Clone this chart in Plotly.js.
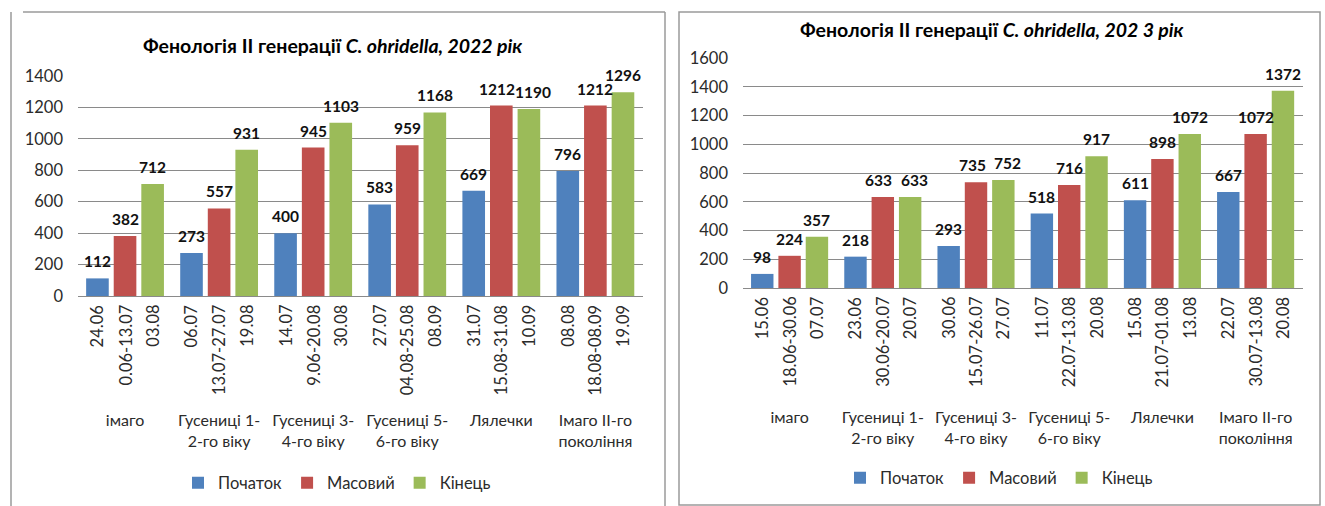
<!DOCTYPE html>
<html>
<head>
<meta charset="utf-8">
<script src="https://cdn.plot.ly/plotly-3.0.1.min.js"></script>
<style>html,body{margin:0;padding:0;background:#fff}#chart{width:1325px;height:506px}</style>
</head>
<body>
<div id="chart"></div>
<script>
// ---- data ----
const categories = ['імаго', 'Гусениці 1-2-го віку', 'Гусениці 3-4-го віку', 'Гусениці 5-6-го віку', 'Лялечки', 'Імаго ІІ-го покоління'];
const categoryLabels = ['імаго', 'Гусениці 1-<br>2-го віку', 'Гусениці 3-<br>4-го віку', 'Гусениці 5-<br>6-го віку', 'Лялечки', 'Імаго ІІ-го<br>покоління'];
const seriesNames = ['Початок', 'Масовий', 'Кінець'];

const start2022 = [112, 273, 400, 583, 669, 796];
const mass2022  = [382, 557, 945, 959, 1212, 1212];
const end2022   = [712, 931, 1103, 1168, 1190, 1296];
const startDates2022 = ['24.06', '06.07', '14.07', '27.07', '31.07', '08.08'];
const massDates2022  = ['0.06-13.07', '13.07-27.07', '9.06-20.08', '04.08-25.08', '15.08-31.08', '18.08-08.09'];
const endDates2022   = ['03.08', '19.08', '30.08', '08.09', '10.09', '19.09'];

const start2023 = [98, 218, 293, 518, 611, 667];
const mass2023  = [224, 633, 735, 716, 898, 1072];
const end2023   = [357, 633, 752, 917, 1072, 1372];
const startDates2023 = ['15.06', '23.06', '30.06', '11.07', '15.08', '22.07'];
const massDates2023  = ['18.06-30.06', '30.06-20.07', '15.07-26.07', '22.07-13.08', '21.07-01.08', '30.07-13.08'];
const endDates2023   = ['07.07', '20.07', '27.07', '20.08', '13.08', '20.08'];

const title2022 = 'Фенологія ІІ генерації <i>C. ohridella, 2022 рік</i>';
const title2023 = 'Фенологія ІІ генерації <i>C. ohridella, 202 3 рік</i>';

// ---- style ----
const W = 1325, H = 506;
const colors = ['#4F81BD', '#C0504D', '#9BBB59'];
const FONT = 'Lato, "Open Sans", "DejaVu Sans", sans-serif';
const TXT = '#2b2b2b';
const GRID = '#8a8a8a';
const BARGAP = 0.12, BARGROUPGAP = 0.18;

const px = x => x / W;
const py = y => 1 - y / H;

const dom1x = [px(78), px(643)], dom1y = [py(296), py(76)];
const dom2x = [px(743), px(1303)], dom2y = [py(288), py(58)];

const panels = [
  {xa: 'x', ya: 'y', legend: 'legend', vals: [start2022, mass2022, end2022],
   dates: [startDates2022, massDates2022, endDates2022], dom: dom1x},
  {xa: 'x2', ya: 'y2', legend: 'legend2', vals: [start2023, mass2023, end2023],
   dates: [startDates2023, massDates2023, endDates2023], dom: dom2x}
];

const traces = [];
const annotations = [];
panels.forEach(p => {
  const catPx = (p.dom[1] - p.dom[0]) * W / categories.length;
  const slot = catPx * (1 - BARGAP) / 3;
  p.vals.forEach((v, j) => {
    traces.push({
      type: 'bar', name: seriesNames[j], x: categories, y: v,
      xaxis: p.xa, yaxis: p.ya, legend: p.legend,
      marker: {color: colors[j], line: {width: 0}},
      hoverinfo: 'x+y+name'
    });
    v.forEach((val, i) => {
      // nudge neighbouring labels of equal height apart so they do not collide
      let nudge = 0;
      if (j < 2 && Math.abs(p.vals[j + 1][i] - val) < 60) nudge -= 4;
      if (j > 0 && Math.abs(p.vals[j - 1][i] - val) < 60) nudge += 4;
      annotations.push({
        xref: p.xa, yref: p.ya, x: categories[i], y: val,
        xshift: (j - 1) * slot + nudge, yshift: 6,
        text: '<b>' + val + '</b>', showarrow: false,
        xanchor: 'center', yanchor: 'bottom',
        font: {family: FONT, size: 15.5, color: '#111'}
      });
    });
    p.dates[j].forEach((d, i) => {
      annotations.push({
        xref: p.xa, yref: p.ya + ' domain', x: categories[i], y: 0,
        xshift: (j - 1) * slot, yshift: -7,
        text: d, showarrow: false, textangle: -90,
        xanchor: 'center', yanchor: 'top',
        font: {family: FONT, size: 16.5, color: TXT}
      });
    });
  });
});

annotations.push({xref: 'paper', yref: 'paper', x: px(332), y: py(45), text: '<b>' + title2022 + '</b>',
  showarrow: false, xanchor: 'center', yanchor: 'middle', font: {family: FONT, size: 19.5, color: '#000'}});
annotations.push({xref: 'paper', yref: 'paper', x: px(991), y: py(30), text: '<b>' + title2023 + '</b>',
  showarrow: false, xanchor: 'center', yanchor: 'middle', font: {family: FONT, size: 19.5, color: '#000'}});

const frameLine = {color: '#9a9a9a', width: 1.5};
const shapes = [
  {type: 'line', xref: 'paper', yref: 'paper', x0: px(11), x1: px(11), y0: py(12), y1: py(506), line: frameLine},
  {type: 'line', xref: 'paper', yref: 'paper', x0: px(23), x1: px(665), y0: py(12), y1: py(12), line: frameLine},
  {type: 'line', xref: 'paper', yref: 'paper', x0: px(665), x1: px(665), y0: py(12), y1: py(506), line: frameLine},
  {type: 'rect', xref: 'paper', yref: 'paper', x0: px(679), x1: px(1320), y0: py(505), y1: py(12), line: frameLine}
];

const xaxisBase = {
  type: 'category', tickvals: categories, ticktext: categoryLabels,
  showgrid: false, showline: false, ticks: '', zeroline: false,
  tickfont: {family: FONT, size: 16, color: TXT}, tickangle: 0, fixedrange: true
};
const yaxisBase = {
  showgrid: true, gridcolor: GRID, gridwidth: 1, zeroline: true, zerolinecolor: GRID, zerolinewidth: 1,
  showline: false, ticks: '', dtick: 200, tickfont: {family: FONT, size: 16.5, color: TXT},
  ticklabelstandoff: 14, fixedrange: true
};

const layout = {
  width: W, height: H, margin: {l: 0, r: 0, t: 0, b: 0},
  paper_bgcolor: '#fff', plot_bgcolor: 'rgba(0,0,0,0)',
  barmode: 'group', bargap: BARGAP, bargroupgap: BARGROUPGAP,
  font: {family: FONT, color: TXT},
  xaxis: Object.assign({}, xaxisBase, {domain: dom1x, anchor: 'y', ticklabelstandoff: 113}),
  yaxis: Object.assign({}, yaxisBase, {domain: dom1y, anchor: 'x', range: [0, 1400]}),
  xaxis2: Object.assign({}, xaxisBase, {domain: dom2x, anchor: 'y2', ticklabelstandoff: 118}),
  yaxis2: Object.assign({}, yaxisBase, {domain: dom2y, anchor: 'x2', range: [0, 1600]}),
  legend: {orientation: 'h', x: px(337), y: py(483), xanchor: 'center', yanchor: 'middle',
    font: {family: FONT, size: 16.5, color: TXT}, bgcolor: 'rgba(0,0,0,0)'},
  legend2: {orientation: 'h', x: px(999), y: py(478), xanchor: 'center', yanchor: 'middle',
    font: {family: FONT, size: 16.5, color: TXT}, bgcolor: 'rgba(0,0,0,0)'},
  annotations: annotations,
  shapes: shapes,
  showlegend: true
};

Plotly.newPlot('chart', traces, layout, {displayModeBar: false, responsive: false});
</script>
</body>
</html>
